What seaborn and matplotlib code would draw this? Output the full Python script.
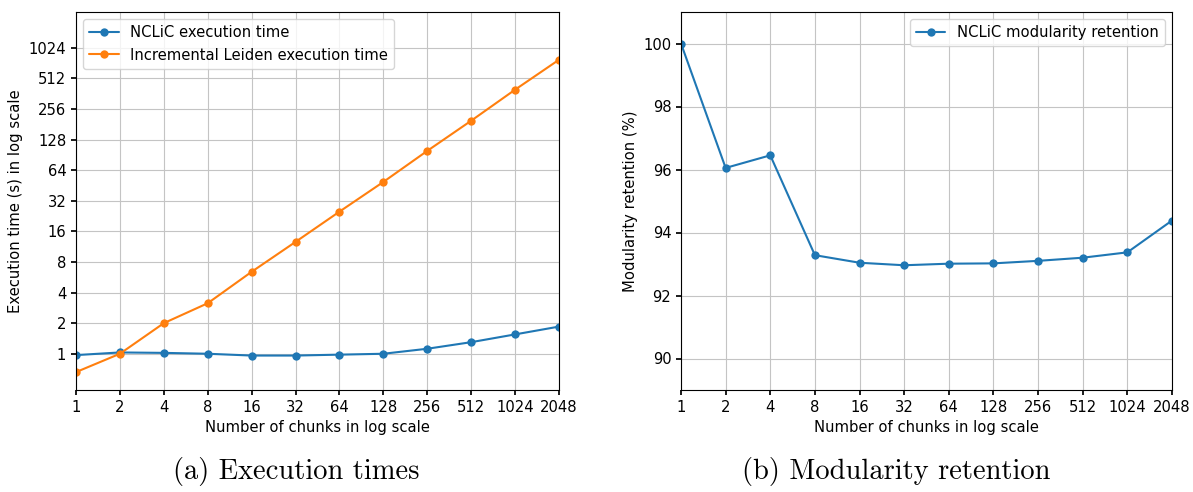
import numpy as np
import pandas as pd
import matplotlib
matplotlib.use("Agg")
import matplotlib.pyplot as plt
import seaborn as sns
from matplotlib.ticker import NullLocator

chunks = [1, 2, 4, 8, 16, 32, 64, 128, 256, 512, 1024, 2048]
nclic_time = [0.97, 1.03, 1.02, 1.0, 0.96, 0.96, 0.98, 1.0, 1.12, 1.3, 1.55, 1.85]
leiden_time = [0.66, 1.0, 2.0, 3.14, 6.4, 12.6, 25, 49, 99, 196, 396, 780]
modularity = [100.0, 96.05, 96.45, 93.28, 93.04, 92.96, 93.01, 93.02, 93.1, 93.2, 93.37, 94.38]
time_ticks = [1, 2, 4, 8, 16, 32, 64, 128, 256, 512, 1024]
mod_ticks = [90, 92, 94, 96, 98, 100]

sns.set_theme(style="ticks", rc={"axes.grid": True, "grid.color": "#c4c4c4",
                                 "grid.linewidth": 0.8,
                                 "axes.edgecolor": "black", "xtick.color": "black",
                                 "ytick.color": "black", "text.color": "black",
                                 "axes.labelcolor": "black"})
plt.rcParams['font.family'] = ['DejaVu Sans']
fs = 10.6

fig = plt.figure(figsize=(11.93, 4.92), dpi=100)
ax1 = fig.add_axes([76 / 1193, 1 - 390 / 492, 483 / 1193, 378 / 492])
ax2 = fig.add_axes([681 / 1193, 1 - 390 / 492, 491 / 1193, 378 / 492])

blue = "#1f77b4"
orange = "#ff7f0e"

# left panel: execution times
sns.lineplot(x=chunks, y=nclic_time, ax=ax1, color=blue, marker="o", markersize=6,
             markeredgewidth=0, label="NCLiC execution time")
sns.lineplot(x=chunks, y=leiden_time, ax=ax1, color=orange, marker="o", markersize=6,
             markeredgewidth=0, label="Incremental Leiden execution time")
ax1.set_xscale("log", base=2)
ax1.set_yscale("log", base=2)
ax1.set_xlim(1, 2048)
ax1.set_ylim(0.44, 2300)
ax1.set_xticks(chunks, labels=[str(c) for c in chunks])
ax1.set_yticks(time_ticks, labels=[str(t) for t in time_ticks])
ax1.xaxis.set_minor_locator(NullLocator())
ax1.yaxis.set_minor_locator(NullLocator())
ax1.set_xlabel("Number of chunks in log scale", fontsize=fs)
ax1.set_ylabel("Execution time (s) in log scale", fontsize=fs)
ax1.legend(loc="upper left", fontsize=fs)

# right panel: modularity retention
sns.lineplot(x=chunks, y=modularity, ax=ax2, color=blue, marker="o", markersize=6,
             markeredgewidth=0, label="NCLiC modularity retention")
ax2.set_xscale("log", base=2)
ax2.set_xlim(1, 2048)
ax2.set_ylim(89, 101)
ax2.set_xticks(chunks, labels=[str(c) for c in chunks])
ax2.set_yticks(mod_ticks, labels=[str(t) for t in mod_ticks])
ax2.xaxis.set_minor_locator(NullLocator())
ax2.set_xlabel("Number of chunks in log scale", fontsize=fs)
ax2.set_ylabel("Modularity retention (%)", fontsize=fs)
ax2.legend(loc="upper right", fontsize=fs)

for ax in (ax1, ax2):
    ax.tick_params(labelsize=fs, length=3.5)
    for s in ax.spines.values():
        s.set_linewidth(0.8)

fig.text(296 / 1193, 1 - 472 / 492, "(a) Execution times", ha="center", va="center",
         fontsize=20.5, family="cmr10")
fig.text(896 / 1193, 1 - 472 / 492, "(b) Modularity retention", ha="center", va="center",
         fontsize=20.5, family="cmr10")

fig.savefig("out.png", dpi=100)
